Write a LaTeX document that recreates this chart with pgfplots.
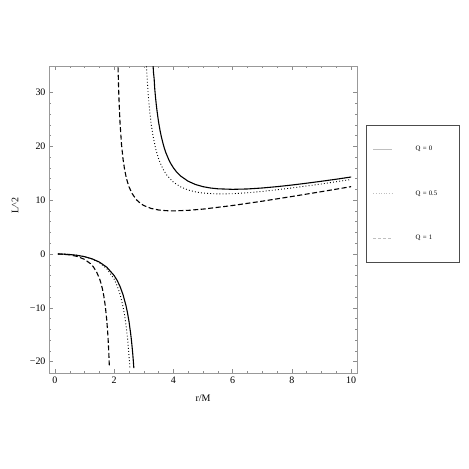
\documentclass[border=0pt]{standalone}
\usepackage{pgfplots}
\pgfplotsset{compat=1.18}
\usepackage{fontspec}
\setmainfont{Liberation Serif}
\begin{document}
\begin{tikzpicture}
\path[use as bounding box] (-49bp,-96bp) rectangle (420bp,373bp);
\begin{axis}[
  at={(0,0)}, anchor=south west,
  scale only axis, width=308bp, height=307bp,
  xmin=-0.2, xmax=10.2, ymin=-22.1, ymax=34.9,
  xtick={0,2,4,6,8,10}, xticklabels={0,2,4,6,8,10},
  ytick={-20,-10,0,10,20,30}, yticklabels={−20,−10,0,10,20,30},
  minor x tick num=3, minor y tick num=4,
  tick align=inside,
  major tick length=4bp, minor tick length=2bp,
  axis line style={black!40},
  every tick/.style={black!45},
  tick label style={font=\fontsize{10}{12}\selectfont},
  xlabel={r/M}, ylabel={L\textasciicircum 2},
  label style={font=\fontsize{10}{12}\selectfont},
  xlabel style={at={(axis description cs:0.5,-0.081)}, anchor=center},
  ylabel style={at={(axis description cs:-0.11,0.545)}, anchor=center, rotate=0},
  legend image code/.code={\draw[#1] (0bp,0bp) -- (19bp,0bp);},
  legend style={at={(axis description cs:1.029,0.808)}, anchor=north west,
    draw=black!70, fill=white, font=\fontsize{6.8}{8}\selectfont,
    inner xsep=7bp, inner ysep=21bp, row sep=38.5bp, column sep=23bp,
    nodes={text width=37bp, inner sep=0pt}, cells={anchor=west}},
]
% Q = 0
\addplot[black, line width=1.1pt, forget plot] coordinates {
(0.1,-0.0034)(0.25,-0.0227)(0.5,-0.1)(0.75,-0.25)(1.0,-0.5)(1.25,-0.893)(1.5,-1.5)(1.75,-2.45)(2.0,-4)(2.1,-4.9)(2.2,-6.05)(2.3,-7.56)(2.4,-9.6)(2.45,-10.91)(2.5,-12.5)(2.55,-14.45)(2.58,-15.85)(2.6,-16.9)(2.62,-18.06)(2.63,-18.69)(2.645,-19.71)(2.66,-20.81)(2.665,-21.2)};
\addplot[black, line width=1.1pt, forget plot] coordinates {
(3.31,35.34)(3.33,33.6)(3.35,32.57)(3.37,30.69)(3.4,28.9)(3.42,27.85)(3.45,26.45)(3.5,24.5)(3.55,22.91)(3.6,21.6)(3.65,20.5)(3.7,19.56)(3.75,18.75)(3.85,17.44)(3.9,16.9)(4.0,16)(4.1,15.28)(4.25,14.45)(4.5,13.5)(4.75,12.89)(5.0,12.5)(5.25,12.25)(5.5,12.1)(6.0,12)(6.5,12.07)(7,12.25)(7.5,12.5)(8,12.8)(8.5,13.14)(9,13.5)(9.5,13.88)(10,14.29)};
% Q = 0.5
\addplot[black, line width=0.9pt, dash pattern=on 0.9pt off 2.2pt, forget plot] coordinates {
(0.1,-0.007)(0.3,-0.0145)(0.5,-0.083)(0.75,-0.237)(1.0,-0.5)(1.25,-0.926)(1.5,-1.607)(1.75,-2.722)(2.0,-4.667)(2.1,-5.87)(2.2,-7.49)(2.3,-9.77)(2.35,-11.29)(2.4,-13.17)(2.45,-15.58)(2.48,-17.37)(2.5,-18.75)(2.515,-19.9)(2.53,-21.1)};
\addplot[black, line width=0.9pt, dash pattern=on 0.9pt off 2.2pt, forget plot] coordinates {
(3.08,35.97)(3.1,33.81)(3.15,29.59)(3.2,26.5)(3.25,24.14)(3.3,22.29)(3.4,19.58)(3.5,17.69)(3.6,16.32)(3.7,15.28)(3.8,14.48)(4.0,13.33)(4.25,12.43)(4.5,11.87)(4.75,11.52)(5,11.31)(5.5,11.14)(6,11.19)(6.5,11.36)(7,11.61)(8,12.25)(9,13.0)(10,13.83)};
% Q = 1
\addplot[black, line width=1.1pt, dash pattern=on 5bp off 2.5bp, forget plot] coordinates {
(0.1,-0.0053)(0.25,-0.036)(0.5,-0.167)(0.75,-0.45)(1.0,-1)(1.2,-1.8)(1.3,-2.41)(1.4,-3.27)(1.5,-4.5)(1.55,-5.34)(1.6,-6.4)(1.65,-7.78)(1.7,-9.63)(1.75,-12.25)(1.78,-14.4)(1.8,-16.2)(1.82,-18.4)(1.84,-21.16)};
\addplot[black, line width=1.1pt, dash pattern=on 5bp off 2.5bp, forget plot] coordinates {
(2.12,37.45)(2.13,34.9)(2.15,30.82)(2.17,27.7)(2.2,24.2)(2.25,20.25)(2.3,17.63)(2.35,15.78)(2.4,14.4)(2.45,13.34)(2.5,12.5)(2.6,11.27)(2.75,10.08)(2.9,9.34)(3.0,9)(3.25,8.45)(3.5,8.17)(3.75,8.04)(4,8)(4.5,8.1)(5,8.33)(6,9)(7,9.8)(8,10.67)(9,11.57)(10,12.5)};
\addlegendimage{black!25, line width=0.5pt}
\addlegendentry{Q = 0}
\addlegendimage{black!25, line width=0.5pt, dash pattern=on 0.6pt off 2pt}
\addlegendentry{Q = 0.5}
\addlegendimage{black!25, line width=0.5pt, dash pattern=on 3bp off 2bp}
\addlegendentry{Q = 1}
\end{axis}
\end{tikzpicture}
\end{document}
